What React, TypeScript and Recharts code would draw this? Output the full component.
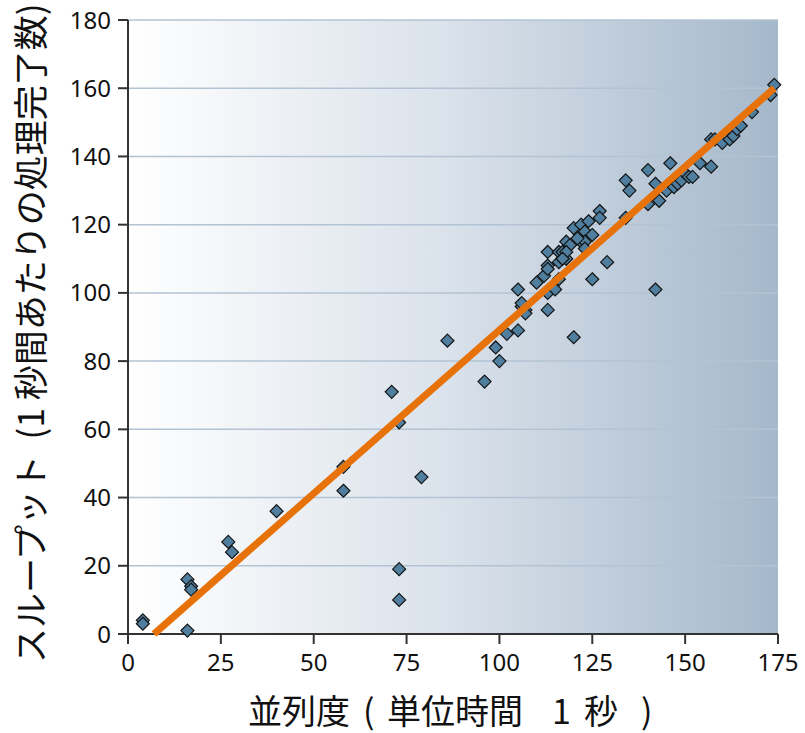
import { CartesianGrid, Label, Scatter, ScatterChart, XAxis, YAxis } from "recharts";

// 並列度 (x) と スループット (y) — 図から読み取った値
const parallelism = [
  4, 4, 16, 16, 17, 17, 27, 28, 40, 58, 58, 71, 73, 73, 73, 79, 86, 96, 99, 100,
  102, 105, 105, 106, 107, 106, 107, 110, 112, 113, 113, 113, 113, 113, 115, 116,
  116, 116, 117, 118, 118, 119, 120, 120, 122, 122, 123, 124, 125, 125, 127, 127,
  129, 123, 134, 135, 134, 140, 140, 142, 143, 142, 145, 146, 147, 148, 149, 150,
  151, 152, 154, 157, 157, 158, 160, 162, 163, 164, 165, 168, 173, 174, 123, 121,
  118, 117,
];
const throughput = [
  4, 3, 1, 16, 14, 13, 27, 24, 36, 49, 42, 71, 62, 19, 10, 46, 86, 74, 84, 80,
  88, 101, 89, 96, 95, 97, 94, 103, 105, 112, 108, 107, 100, 95, 101, 112,
  109, 104, 112, 115, 110, 114, 119, 87, 115, 120, 118, 121, 117, 104, 124, 122,
  109, 115, 133, 130, 122, 136, 126, 132, 127, 101, 130, 138, 131, 132, 133, 135,
  134, 134, 138, 137, 145, 145, 144, 145, 146, 148, 149, 153, 158, 161, 113, 116,
  112, 110,
];

// 近似直線の両端
const fitX = [7, 174];
const fitY = [0, 160];

const xTicks = [0, 25, 50, 75, 100, 125, 150, 175];
const yTicks = [0, 20, 40, 60, 80, 100, 120, 140, 160, 180];

const points = parallelism.map((x, i) => ({ x, y: throughput[i] }));
const fitLine = fitX.map((x, i) => ({ x, y: fitY[i] }));

const NUM_FONT = "'Noto Sans', 'Open Sans', sans-serif";
const JP_FONT = "'Noto Sans CJK JP', sans-serif";

function Diamond(props: any) {
  const { cx, cy } = props;
  if (cx == null || cy == null) return <g />;
  const r = 6.5;
  return (
    <path
      d={`M${cx},${cy - r}L${cx + r},${cy}L${cx},${cy + r}L${cx - r},${cy}Z`}
      fill="#4f7e9e"
      stroke="#141414"
      strokeWidth={1.2}
    />
  );
}

export default function App() {
  return (
    <div style={{ position: "absolute", left: 0, top: 0 }}>
      <ScatterChart
        width={805}
        height={733}
        margin={{ top: 20, right: 27, left: 0, bottom: 0 }}
      >
        <defs>
          <linearGradient id="plotBg" x1="0" y1="0" x2="1" y2="0">
            <stop offset="0%" stopColor="#ffffff" />
            <stop offset="50%" stopColor="#d9e1ea" />
            <stop offset="100%" stopColor="#a5b8cb" />
          </linearGradient>
        </defs>
        <CartesianGrid
          vertical={false}
          stroke="#b3c3d3"
          strokeWidth={1.5}
          fill="url(#plotBg)"
          fillOpacity={1}
        />
        <XAxis
          type="number"
          dataKey="x"
          domain={[0, 175]}
          ticks={xTicks}
          height={99}
          tickSize={10}
          tickMargin={10}
          stroke="#333"
          strokeWidth={2}
          tick={{ fill: "#111", fontSize: 24, fontFamily: NUM_FONT }}
        >
          <Label
            content={() => (
              // 参照図の字間に合わせて区切りごとに配置
              <text y={724} fontSize={34} fontFamily={JP_FONT} fill="#111">
                <tspan x={248}>並列度</tspan>
                <tspan x={363}>(</tspan>
                <tspan x={387}>単位時間</tspan>
                <tspan x={552}>1</tspan>
                <tspan x={584}>秒</tspan>
                <tspan x={641}>)</tspan>
              </text>
            )}
          />
        </XAxis>
        <YAxis
          type="number"
          dataKey="y"
          domain={[0, 180]}
          ticks={yTicks}
          width={128}
          tickSize={10}
          tickMargin={7}
          stroke="#333"
          strokeWidth={2}
          tick={{ fill: "#111", fontSize: 24, fontFamily: NUM_FONT }}
        >
          <Label
            content={() => (
              <text
                x={0}
                y={0}
                transform="translate(28, 663) rotate(-90)"
                textAnchor="start"
                dominantBaseline="central"
                fontSize={35}
                fontFamily={JP_FONT}
                fill="#111"
                style={{ whiteSpace: "pre" }}
              >
                {"スループット  (1 秒間あたりの処理完了数)"}
              </text>
            )}
          />
        </YAxis>
        <Scatter data={points} shape={Diamond} isAnimationActive={false} />
        <Scatter
          data={fitLine}
          line={{ stroke: "#e8720a", strokeWidth: 7 }}
          shape={() => <g />}
          isAnimationActive={false}
        />
      </ScatterChart>
    </div>
  );
}
